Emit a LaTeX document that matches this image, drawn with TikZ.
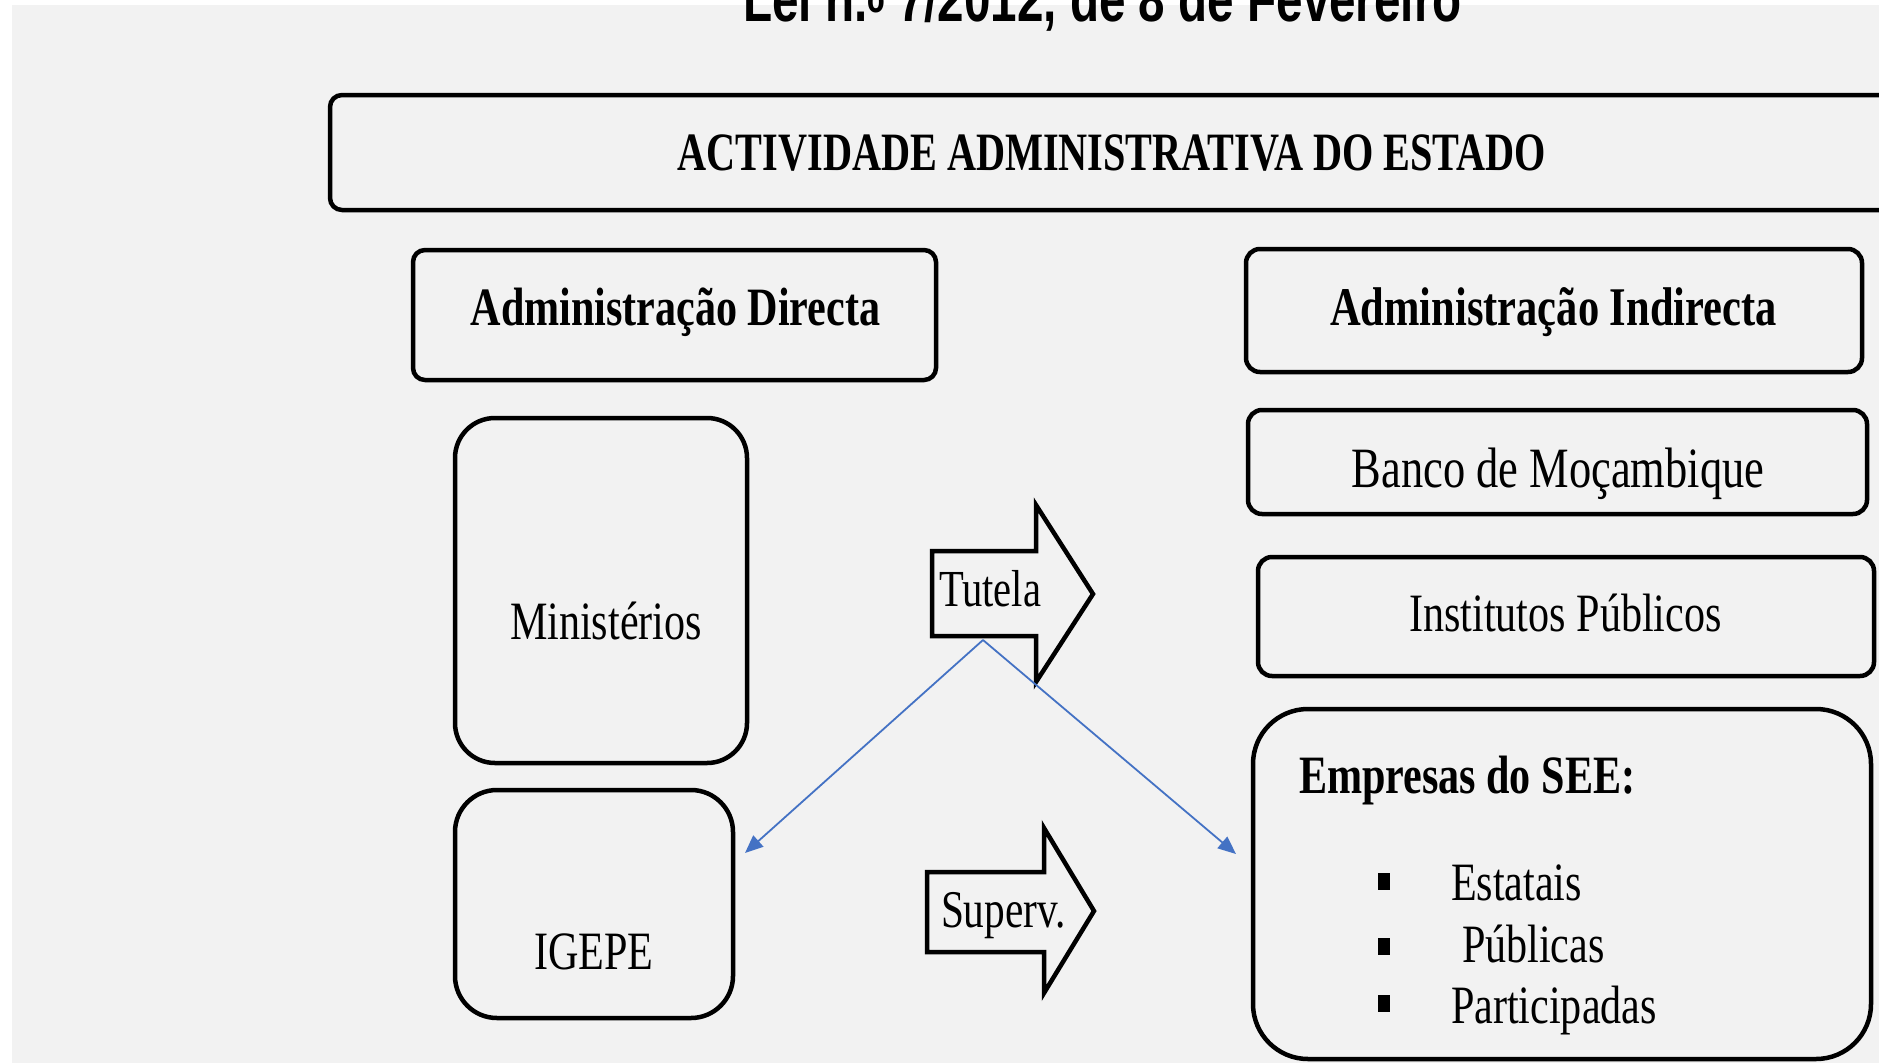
\documentclass[tikz,border=0pt]{standalone}
\usepackage{fontspec}
\setmainfont{Liberation Serif}
\newfontfamily\tnr[FakeStretch=0.78]{Liberation Serif}
\newfontfamily\tnrA[FakeStretch=0.745]{Liberation Serif}
\newfontfamily\arialc[FakeStretch=0.75]{Liberation Sans}
\usetikzlibrary{arrows.meta}
\definecolor{bggray}{HTML}{F2F2F2}
\definecolor{linkblue}{HTML}{4472C4}
\newcommand{\fsz}[1]{\fontsize{#1}{#1}\selectfont}
\begin{document}
\begin{tikzpicture}[x=1pt,y=-1pt,
  box/.style={draw=black,line width=4.5pt,inner sep=0pt,outer sep=0pt},
  txt/.style={inner sep=0pt,outer sep=0pt,anchor=base,text=black},
  txtw/.style={inner sep=0pt,outer sep=0pt,anchor=base west,text=black},
  blockarrow/.style={draw=black,line width=4.5pt,line join=miter},
  link/.style={draw=linkblue,line width=1.8pt,-{Triangle[length=18pt,width=15pt]}},
  bullet/.style={fill=black,inner sep=0pt,minimum width=12pt,minimum height=17pt}]
\useasboundingbox (0,0) rectangle (1879,1063);
\clip (0,0) rectangle (1879,1063);
\fill[white] (0,0) rectangle (1879,1063);
\fill[bggray] (12,5) rectangle (1879,1063);

% title
\node[txtw] (title) at (743,21) {\arialc\bfseries\fsz{63.5}Lei n.\raisebox{-14pt}{º} 7/2012, de 8 de Fevereiro};

% boxes
\node[box,rounded corners=12pt,minimum width=1590pt,minimum height=115pt] (top) at (1125,152.5) {};
\node[box,rounded corners=12pt,minimum width=523pt,minimum height=130pt] (dir) at (674.5,315) {};
\node[box,rounded corners=14pt,minimum width=616pt,minimum height=123pt] (ind) at (1554,310.5) {};
\node[box,rounded corners=14pt,minimum width=619pt,minimum height=104pt] (banco) at (1557.5,462) {};
\node[box,rounded corners=14pt,minimum width=616pt,minimum height=119pt] (inst) at (1566,616.5) {};
\node[box,rounded corners=55pt,minimum width=618pt,minimum height=350pt] (emp) at (1562,884) {};
\node[box,rounded corners=40pt,minimum width=292pt,minimum height=345pt] (min) at (601,590.5) {};
\node[box,rounded corners=42pt,minimum width=278pt,minimum height=228pt] (igepe) at (594,904) {};

% box texts
\node[txt] (topT) at (1112,170) {\tnrA\bfseries\fsz{54}ACTIVIDADE ADMINISTRATIVA DO ESTADO};
\node[txt] (dirT) at (675.5,325) {\tnr\bfseries\fsz{54}Administração Directa};
\node[txt] (indT) at (1553.5,325) {\tnr\bfseries\fsz{54.5}Administração Indirecta};
\node[txt] (bancoT) at (1558,487) {\tnr\fsz{57}Banco de Moçambique};
\node[txt] (instT) at (1565.5,631) {\tnr\fsz{54}Institutos Públicos};
\node[txt] (minT) at (606,639) {\tnr\fsz{54}Ministérios};
\node[txt] (igepeT) at (594,969) {\tnr\fsz{54}IGEPE};
\node[txtw] (empT) at (1299,793) {\tnr\bfseries\fsz{54}Empresas do SEE:};
\node[bullet] (b1) at (1384,881) {};
\node[bullet] (b2) at (1384,946) {};
\node[bullet] (b3) at (1384,1003) {};
\node[txtw] (i1) at (1451,900) {\tnr\fsz{54}Estatais};
\node[txtw] (i2) at (1462,962) {\tnr\fsz{54}Públicas};
\node[txtw] (i3) at (1451,1023) {\tnr\fsz{54}Participadas};

% block arrows
\draw[blockarrow] (932,551) -- (1036,551) -- (1036,505) -- (1093,594) -- (1036,682) -- (1036,636) -- (932,636) -- cycle;
\node[txtw] (tutT) at (939,606) {\tnr\fsz{52}Tutela};
\draw[blockarrow] (927,872) -- (1044,872) -- (1044,828) -- (1094,911) -- (1044,993) -- (1044,952) -- (927,952) -- cycle;
\node[txtw] (supT) at (941,927) {\tnr\fsz{53}Superv.};

% blue connectors
\coordinate (apex) at (983,640);
\coordinate (endL) at (745,853);
\coordinate (endR) at (1236,854);
\draw[link] (apex) -- (endL);
\draw[link] (apex) -- (endR);
\end{tikzpicture}
\end{document}
